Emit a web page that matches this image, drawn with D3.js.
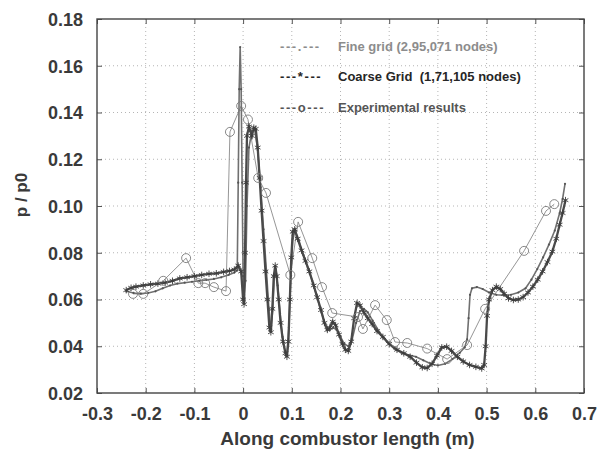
<!DOCTYPE html>
<html>
<head>
<meta charset="utf-8">
<script src="https://cdn.jsdelivr.net/npm/d3@7"></script>
<style>
  body { margin: 0; background: #fff; }
  text { font-family: "Liberation Sans", Arial, sans-serif; }
</style>
</head>
<body>
<div id="plot"></div>
<script>
// Fine grid (2,95,071 nodes): [x (m), p/p0]
let fineGrid = [
  [-0.240, 0.0635], [-0.225, 0.0628], [-0.210, 0.0625], [-0.195, 0.0628], [-0.180, 0.0635],
  [-0.165, 0.0648], [-0.150, 0.0660], [-0.135, 0.0668], [-0.120, 0.0672], [-0.105, 0.0676],
  [-0.090, 0.0680], [-0.075, 0.0684], [-0.060, 0.0688], [-0.045, 0.0695], [-0.030, 0.0705],
  [-0.018, 0.0715], [-0.012, 0.0725], [-0.010, 0.1100], [-0.008, 0.1500], [-0.006, 0.1680],
  [-0.004, 0.1500], [-0.002, 0.1100], [0.000, 0.0700], [0.002, 0.0620], [0.005, 0.0680],
  [0.008, 0.1000], [0.012, 0.1250], [0.018, 0.1320], [0.024, 0.1325], [0.030, 0.1240],
  [0.036, 0.1080], [0.042, 0.0900], [0.048, 0.0720], [0.053, 0.0560], [0.057, 0.0470],
  [0.061, 0.0560], [0.064, 0.0700], [0.067, 0.0730], [0.071, 0.0660], [0.076, 0.0540],
  [0.081, 0.0440], [0.086, 0.0380], [0.090, 0.0365], [0.094, 0.0480], [0.098, 0.0700],
  [0.102, 0.0860], [0.107, 0.0895], [0.115, 0.0850], [0.124, 0.0790], [0.133, 0.0735],
  [0.142, 0.0680], [0.150, 0.0625], [0.158, 0.0565], [0.166, 0.0510], [0.172, 0.0480],
  [0.178, 0.0470], [0.185, 0.0480], [0.192, 0.0470], [0.200, 0.0440], [0.208, 0.0410],
  [0.216, 0.0400], [0.224, 0.0430], [0.232, 0.0500], [0.240, 0.0550], [0.248, 0.0560],
  [0.256, 0.0545], [0.266, 0.0510], [0.280, 0.0460], [0.295, 0.0420], [0.310, 0.0390],
  [0.325, 0.0372], [0.340, 0.0362], [0.355, 0.0355], [0.370, 0.0340], [0.385, 0.0325],
  [0.400, 0.0318], [0.415, 0.0325], [0.430, 0.0345], [0.445, 0.0372], [0.455, 0.0395],
  [0.460, 0.0430], [0.463, 0.0520], [0.466, 0.0620], [0.470, 0.0648], [0.480, 0.0653],
  [0.492, 0.0645], [0.505, 0.0630], [0.520, 0.0620], [0.535, 0.0618], [0.550, 0.0620],
  [0.565, 0.0630], [0.580, 0.0648], [0.592, 0.0685], [0.604, 0.0730], [0.616, 0.0780],
  [0.628, 0.0835], [0.640, 0.0895], [0.650, 0.0970], [0.656, 0.1030], [0.661, 0.1095]
]

// Coarse grid (1,71,105 nodes)
let coarseGrid = [
  [-0.240, 0.0640], [-0.230, 0.0650], [-0.220, 0.0655], [-0.205, 0.0660], [-0.190, 0.0665],
  [-0.175, 0.0668], [-0.160, 0.0672], [-0.145, 0.0680], [-0.130, 0.0690], [-0.115, 0.0695],
  [-0.100, 0.0700], [-0.085, 0.0705], [-0.070, 0.0710], [-0.055, 0.0712], [-0.040, 0.0718],
  [-0.028, 0.0722], [-0.018, 0.0728], [-0.010, 0.0745], [-0.004, 0.0720], [0.000, 0.0600],
  [0.002, 0.0580], [0.004, 0.0800], [0.006, 0.1100], [0.008, 0.1300], [0.012, 0.1340],
  [0.018, 0.1300], [0.022, 0.1335], [0.026, 0.1330], [0.030, 0.1250], [0.034, 0.1120],
  [0.038, 0.0980], [0.042, 0.0850], [0.046, 0.0720], [0.050, 0.0600], [0.054, 0.0480],
  [0.057, 0.0460], [0.060, 0.0560], [0.063, 0.0700], [0.066, 0.0745], [0.069, 0.0700],
  [0.073, 0.0600], [0.077, 0.0500], [0.082, 0.0420], [0.087, 0.0370], [0.090, 0.0355],
  [0.093, 0.0420], [0.096, 0.0600], [0.099, 0.0780], [0.102, 0.0890], [0.106, 0.0900],
  [0.112, 0.0860], [0.120, 0.0810], [0.128, 0.0765], [0.136, 0.0720], [0.145, 0.0660],
  [0.152, 0.0610], [0.160, 0.0555], [0.167, 0.0500], [0.173, 0.0470], [0.178, 0.0480],
  [0.184, 0.0505], [0.190, 0.0490], [0.197, 0.0450], [0.204, 0.0410], [0.210, 0.0385],
  [0.216, 0.0380], [0.222, 0.0420], [0.228, 0.0520], [0.234, 0.0585], [0.240, 0.0575],
  [0.248, 0.0545], [0.256, 0.0520], [0.265, 0.0495], [0.275, 0.0465], [0.287, 0.0440],
  [0.300, 0.0410], [0.316, 0.0385], [0.330, 0.0370], [0.343, 0.0355], [0.356, 0.0330],
  [0.368, 0.0310], [0.378, 0.0307], [0.388, 0.0325], [0.398, 0.0360], [0.408, 0.0395],
  [0.418, 0.0398], [0.428, 0.0380], [0.440, 0.0355], [0.452, 0.0335], [0.465, 0.0320],
  [0.478, 0.0312], [0.490, 0.0305], [0.495, 0.0320], [0.498, 0.0400], [0.501, 0.0530],
  [0.505, 0.0600], [0.512, 0.0640], [0.520, 0.0655], [0.528, 0.0645], [0.536, 0.0625],
  [0.545, 0.0605], [0.555, 0.0598], [0.565, 0.0600], [0.575, 0.0610], [0.585, 0.0630],
  [0.595, 0.0655], [0.605, 0.0685], [0.615, 0.0720], [0.625, 0.0760], [0.635, 0.0805],
  [0.643, 0.0860], [0.650, 0.0920], [0.656, 0.0970], [0.662, 0.1025]
]

// Experimental results
let experimental = [
  [-0.226, 0.0624], [-0.205, 0.0624], [-0.164, 0.0680], [-0.117, 0.0777], [-0.092, 0.0670],
  [-0.078, 0.0670], [-0.060, 0.0653], [-0.035, 0.0636], [-0.027, 0.1317], [-0.004, 0.1428],
  [0.010, 0.1370], [0.031, 0.1120], [0.047, 0.1056], [0.097, 0.0705], [0.113, 0.0932],
  [0.142, 0.0777], [0.162, 0.0653], [0.183, 0.0542], [0.236, 0.0525], [0.246, 0.0474],
  [0.271, 0.0576], [0.295, 0.0512], [0.312, 0.0418], [0.337, 0.0414], [0.378, 0.0390],
  [0.419, 0.0345], [0.460, 0.0405], [0.497, 0.0560], [0.577, 0.0808], [0.622, 0.0979],
  [0.639, 0.1008]
]

let xTicks = [-0.3, -0.2, -0.1, 0, 0.1, 0.2, 0.3, 0.4, 0.5, 0.6, 0.7]
let yTicks = [0.02, 0.04, 0.06, 0.08, 0.10, 0.12, 0.14, 0.16, 0.18]
let legendLabels = ['Fine grid (2,95,071 nodes)', 'Coarse Grid  (1,71,105 nodes)', 'Experimental results']
let legendSymbols = ['---.---', '---*---', '---o---']

// Plot constants
let W = 605, H = 456
let margin = {t: 19, r: 21, b: 63, l: 97}
let width = W - margin.l - margin.r
let height = H - margin.t - margin.b

let svg = d3.select('#plot')
  .append('svg')
  .attr('width', W)
  .attr('height', H)

svg.append('rect').attr('width', W).attr('height', H).attr('fill', '#fff')

let g = svg.append('g').attr('transform', `translate(${margin.l},${margin.t})`)

let x = d3.scaleLinear().domain([-0.3, 0.7]).range([0, width])
let y = d3.scaleLinear().domain([0.02, 0.18]).range([height, 0])

// Dotted grid
g.append('g').selectAll('line')
  .data(xTicks.slice(1, -1))
  .enter().append('line')
  .attr('x1', d => x(d)).attr('x2', d => x(d))
  .attr('y1', 0).attr('y2', height)
  .attr('stroke', '#b5b5b5').attr('stroke-width', 1).attr('stroke-dasharray', '1,3')

g.append('g').selectAll('line')
  .data(yTicks.slice(1, -1))
  .enter().append('line')
  .attr('y1', d => y(d)).attr('y2', d => y(d))
  .attr('x1', 0).attr('x2', width)
  .attr('stroke', '#b5b5b5').attr('stroke-width', 1).attr('stroke-dasharray', '1,3')

// Axes (inward ticks, matlab style)
let tickFmtY = d => d.toFixed(2)
let tickFmtX = d => d === 0 ? '0' : d3.format('.1f')(d).replace('−', '-')

let xAxis = g.append('g')
  .attr('class', 'x-axis')
  .attr('transform', `translate(0,${height})`)
  .call(d3.axisBottom(x).tickValues(xTicks).tickSizeInner(-5).tickSizeOuter(0).tickPadding(10).tickFormat(tickFmtX))
xAxis.select('.domain').remove()

let yAxis = g.append('g')
  .attr('class', 'y-axis')
  .call(d3.axisLeft(y).tickValues(yTicks).tickSizeInner(-5).tickSizeOuter(0).tickPadding(14).tickFormat(tickFmtY))
yAxis.select('.domain').remove()

g.append('g')
  .call(d3.axisTop(x).tickValues(xTicks).tickSizeInner(-5).tickSizeOuter(0).tickFormat(''))
  .select('.domain').remove()
g.append('g')
  .attr('transform', `translate(${width},0)`)
  .call(d3.axisRight(y).tickValues(yTicks).tickSizeInner(-5).tickSizeOuter(0).tickFormat(''))
  .select('.domain').remove()

g.selectAll('.tick line').attr('stroke', '#555')
g.selectAll('.x-axis text, .y-axis text')
  .style('font-size', '18px')
  .style('font-weight', 'bold')
  .style('fill', '#3a3a3a')
  .style('font-family', '"Liberation Sans", Arial, sans-serif')
xAxis.selectAll('text').attr('dy', '0.95em')
yAxis.selectAll('text').attr('dy', '0.35em')

// Frame
g.append('rect')
  .attr('width', width).attr('height', height)
  .attr('fill', 'none').attr('stroke', '#444').attr('stroke-width', 1.4)

// Series
let line = d3.line().x(d => x(d[0])).y(d => y(d[1]))

g.append('path')
  .datum(experimental)
  .attr('d', line)
  .attr('fill', 'none').attr('stroke', '#8a8a8a').attr('stroke-width', 0.9)

g.append('path')
  .datum(fineGrid)
  .attr('d', line)
  .attr('fill', 'none').attr('stroke', '#707070').attr('stroke-width', 1.6)

g.append('g').selectAll('circle')
  .data(fineGrid)
  .enter().append('circle')
  .attr('cx', d => x(d[0])).attr('cy', d => y(d[1]))
  .attr('r', 1.1).attr('fill', '#555')

g.append('path')
  .datum(coarseGrid)
  .attr('d', line)
  .attr('fill', 'none').attr('stroke', '#4a4a4a').attr('stroke-width', 2.3)

let asterisk = d3.symbol().type(d3.symbolAsterisk).size(30)
g.append('g').selectAll('path')
  .data(coarseGrid)
  .enter().append('path')
  .attr('d', asterisk)
  .attr('transform', d => `translate(${x(d[0])},${y(d[1])})`)
  .attr('fill', 'none').attr('stroke', '#3c3c3c').attr('stroke-width', 0.9)

g.append('g').selectAll('circle')
  .data(experimental)
  .enter().append('circle')
  .attr('cx', d => x(d[0])).attr('cy', d => y(d[1]))
  .attr('r', 4.5)
  .attr('fill', 'none').attr('stroke', '#7a7a7a').attr('stroke-width', 0.9)

// Legend
let legendColors = ['#8c8c8c', '#262626', '#555']
let legend = svg.append('g').attr('transform', 'translate(280,46)')
legendLabels.forEach(function(lab, i) {
  let row = legend.append('g').attr('transform', `translate(0,${i * 30.5})`)
  row.append('text')
    .attr('x', 0).attr('dy', '0.35em')
    .style('font-size', '13px').style('font-weight', 'bold')
    .style('letter-spacing', '1.6px')
    .style('fill', legendColors[i])
    .text(legendSymbols[i])
  row.append('text')
    .attr('x', 58).attr('dy', '0.35em')
    .style('font-size', '13px').style('font-weight', 'bold')
    .style('white-space', 'pre')
    .style('fill', legendColors[i])
    .text(lab)
})

// Axis titles
svg.append('text')
  .attr('x', margin.l + width / 2 + 7).attr('y', 438).attr('dy', '0.35em')
  .attr('text-anchor', 'middle')
  .style('font-size', '19px').style('font-weight', 'bold').style('fill', '#3a3a3a')
  .text('Along combustor length (m)')

svg.append('text')
  .attr('transform', 'translate(21,195) rotate(-90)')
  .attr('text-anchor', 'middle').attr('dy', '0.35em')
  .style('font-size', '17px').style('font-weight', 'bold').style('fill', '#3a3a3a')
  .text('p / p0')
</script>
</body>
</html>
